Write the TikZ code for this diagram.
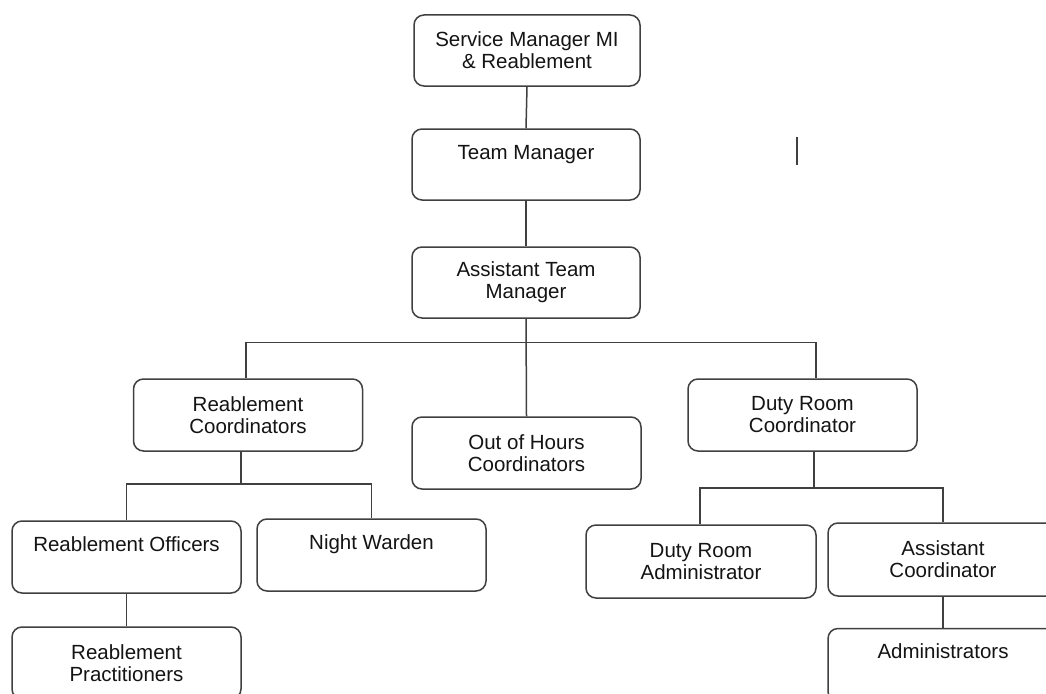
\documentclass[tikz,border=0pt]{standalone}
\usepackage{fontspec}
\setmainfont{Liberation Sans}
\begin{document}
\begin{tikzpicture}[x=1pt,y=-1pt,
  font=\fontsize{20.5}{22}\selectfont,
  box/.style={draw=black!75, line width=1.5pt, rounded corners=10pt,
    minimum width=229pt, minimum height=72pt, inner sep=0pt,
    align=center, text=black!92},
  topl/.style={anchor=base, yshift=-31pt, inner sep=0pt, text=black!92},
  link/.style={draw=black!75, line width=1.5pt}]
\useasboundingbox (0,0) rectangle (1046,693);
\clip (0,0) rectangle (1046,693);
\fill[white] (0,0) rectangle (1046,693);

\node[box, minimum width=226pt, minimum height=71pt] (sm) at (527,50.5) {Service Manager MI\\\& Reablement};
\node[box, minimum width=228pt, minimum height=71pt,
  label={[topl]north:Team Manager}] (tm) at (526,164.5) {};
\node[box, minimum width=228pt, minimum height=71pt] (atm) at (526,282.5) {Assistant Team\\Manager};

\node[box] (rc) at (248,415) {Reablement\\Coordinators};
\node[box] (oh) at (526.5,453) {Out of Hours\\Coordinators};
\node[box] (drc) at (802.5,415) {Duty Room\\Coordinator};

\node[box, label={[topl]north:Reablement Officers}] (ro) at (126.5,557) {};
\node[box, label={[topl]north:Night Warden}] (nw) at (371.5,555) {};
\node[box] (rp) at (126.5,663) {Reablement\\Practitioners};

\node[box, minimum width=230pt, minimum height=73pt] (dra) at (701,561.5) {Duty Room\\Administrator};
\node[box, minimum width=230pt, minimum height=73pt] (ac) at (943,559.5) {Assistant\\Coordinator};
\node[box, minimum width=230pt, minimum height=73pt,
  label={[topl]north:Administrators}] (adm) at (943,665) {};

% connectors
\draw[link] (sm.south) -- (tm.north);
\draw[link] (tm.south) -- (atm.north);
\draw[link] (atm.south) -- (oh.north);
\draw[link] ([xshift=-2pt]rc.north) |- ([xshift=13.5pt,yshift=36pt]drc.north) -- ([xshift=13.5pt]drc.north);
\draw[link] ([xshift=-7pt]rc.south) -- ++(0,32) coordinate (j2);
\draw[link] (ro.north) |- (j2) -| (nw.north);
\draw[link] (ro.south) -- (rp.north);
\draw[link] ([xshift=11.5pt]drc.south) -- ++(0,36) coordinate (j3);
\draw[link] ([xshift=-1pt]dra.north) |- (j3) -| (ac.north);
\draw[link] (ac.south) -- (adm.north);

% stray mark
\coordinate (m1) at (797,137);
\coordinate (m2) at (797,165);
\draw[link] (m1) -- (m2);
\end{tikzpicture}
\end{document}
